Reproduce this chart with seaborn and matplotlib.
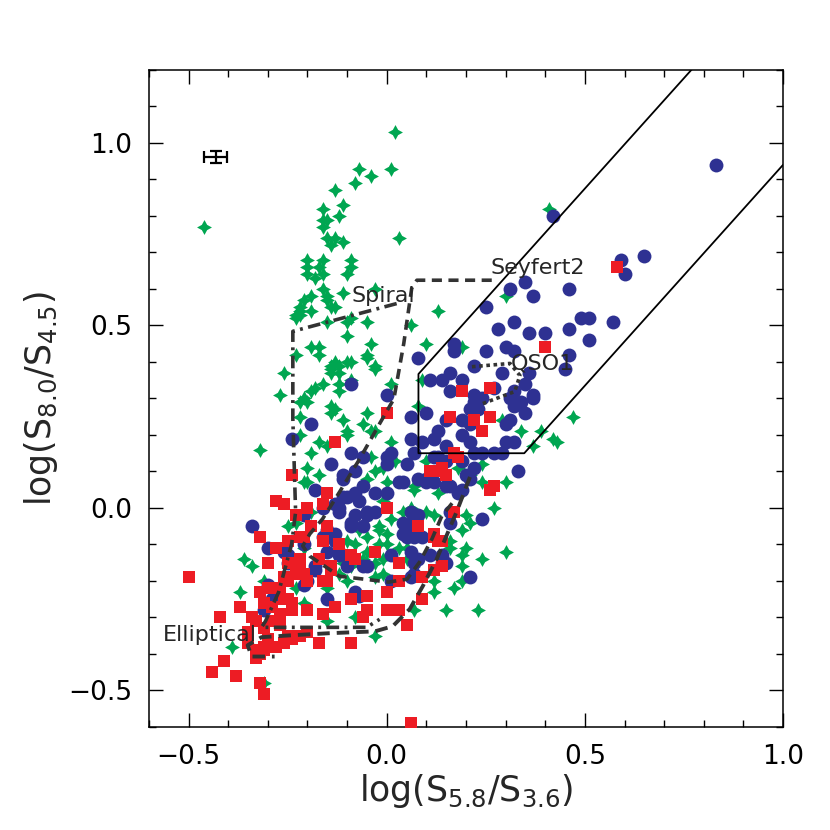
import numpy as np
import pandas as pd
import matplotlib
matplotlib.use("Agg")
import matplotlib.pyplot as plt
import seaborn as sns

# ---- data (log flux ratios) ----
stars = [
    (0.02, 1.03), (-0.46, 0.77), (-0.07, 0.93), (0.01, 0.93), (-0.04, 0.91), (-0.08, 0.89), (-0.13, 0.87), (-0.11, 0.83),
    (-0.12, 0.80), (-0.16, 0.82), (-0.16, 0.79), (-0.15, 0.79), (-0.16, 0.77), (0.03, 0.74), (-0.15, 0.74), (-0.13, 0.74),
    (-0.14, 0.72), (-0.11, 0.73), (-0.20, 0.68), (-0.16, 0.68), (-0.09, 0.68), (-0.20, 0.66), (-0.17, 0.66), (-0.09, 0.66),
    (-0.20, 0.64), (-0.18, 0.63), (-0.16, 0.64), (-0.10, 0.64), (-0.03, 0.60), (-0.16, 0.60), (-0.11, 0.59), (-0.19, 0.58),
    (-0.15, 0.57), (-0.21, 0.57), (-0.22, 0.55), (-0.14, 0.55), (-0.13, 0.55), (-0.19, 0.54), (-0.23, 0.53), (-0.22, 0.53),
    (0.13, 0.54), (-0.09, 0.52), (-0.05, 0.51), (-0.15, 0.51), (0.06, 0.50), (-0.10, 0.51), (-0.10, 0.47), (-0.19, 0.44),
    (-0.17, 0.44), (-0.04, 0.45), (0.10, 0.45), (-0.17, 0.42), (-0.23, 0.42), (-0.05, 0.42), (-0.05, 0.41), (-0.10, 0.40),
    (-0.13, 0.40), (-0.12, 0.39), (-0.14, 0.39), (-0.03, 0.38), (-0.14, 0.37), (-0.26, 0.37), (-0.12, 0.37), (-0.09, 0.35),
    (-0.12, 0.34), (-0.16, 0.34), (-0.18, 0.33), (-0.19, 0.32), (-0.12, 0.32), (-0.27, 0.31), (0.01, 0.34), (0.09, 0.35),
    (-0.15, 0.58), (-0.22, 0.54), (-0.23, 0.52), (-0.09, 0.40), (-0.03, 0.39), (-0.14, 0.38), (-0.21, 0.30), (-0.14, 0.28),
    (-0.22, 0.25), (-0.06, 0.23), (0.41, 0.82), (0.30, 0.58), (0.19, 0.44), (0.08, 0.28), (0.29, 0.24), (0.34, 0.21),
    (0.39, 0.21), (0.42, 0.19), (0.43, 0.18), (0.37, 0.17), (0.24, 0.12), (0.18, 0.11), (0.21, 0.09), (0.30, 0.07),
    (0.07, 0.06), (0.47, 0.25), (0.13, 0.04), (0.27, 0.00), (0.06, 0.00), (0.04, -0.01), (0.20, -0.02), (0.21, -0.04),
    (0.19, -0.06), (0.16, -0.09), (0.20, -0.11), (0.30, -0.12), (0.16, -0.11), (0.19, -0.13), (0.24, -0.14), (0.05, -0.14),
    (0.19, -0.16), (0.12, -0.20), (0.19, -0.20), (0.17, -0.22), (0.12, -0.23), (0.15, -0.28), (0.23, -0.28), (0.07, -0.28),
    (-0.32, 0.16), (-0.36, -0.14), (-0.34, -0.16), (-0.37, -0.23), (-0.31, -0.20), (-0.31, -0.48), (-0.22, 0.29), (-0.20, 0.29),
    (-0.14, 0.26), (-0.13, 0.27), (-0.11, 0.24), (-0.05, 0.26), (-0.03, 0.21), (-0.10, 0.21), (-0.17, 0.18), (-0.20, 0.11),
    (-0.21, 0.07), (-0.15, 0.17), (-0.05, 0.08), (-0.01, 0.11), (0.01, 0.18), (0.02, 0.13), (-0.01, 0.02), (0.01, -0.03),
    (-0.02, -0.05), (-0.05, -0.08), (-0.08, -0.10), (-0.02, -0.10), (-0.06, -0.14), (-0.11, -0.15), (-0.15, -0.22), (-0.21, -0.11),
    (-0.23, -0.04), (-0.10, -0.20), (-0.03, -0.19), (-0.15, -0.31), (-0.08, -0.30), (-0.03, -0.35), (0.07, 0.05), (0.12, -0.02),
    (-0.22, 0.20), (-0.10, 0.20), (-0.04, 0.21), (-0.04, 0.14), (-0.19, 0.15), (-0.17, 0.09), (-0.20, 0.07), (0.00, 0.07),
    (-0.03, 0.10), (0.10, 0.13), (-0.19, -0.01), (-0.25, -0.05), (-0.07, -0.06), (-0.02, -0.06), (0.05, -0.11), (-0.10, -0.09),
    (0.00, -0.10), (-0.05, -0.12), (-0.01, -0.14), (-0.09, -0.16), (-0.03, -0.15), (-0.01, -0.18), (-0.12, -0.18), (0.24, 0.07),
    (0.10, -0.01), (0.03, -0.11), (0.00, -0.07), (-0.23, -0.22), (-0.21, -0.26), (-0.39, -0.38),
]

circles = [
    (-0.09, 0.34), (0.00, 0.31), (0.08, 0.41), (0.17, 0.45), (0.17, 0.43), (0.16, 0.37), (0.11, 0.35), (0.14, 0.35),
    (0.16, 0.32), (0.19, 0.35), (0.83, 0.94), (0.42, 0.80), (0.59, 0.68), (0.65, 0.69), (0.60, 0.64), (0.31, 0.60),
    (0.35, 0.62), (0.37, 0.58), (0.46, 0.60), (0.25, 0.55), (0.32, 0.51), (0.28, 0.49), (0.36, 0.48), (0.40, 0.48),
    (0.46, 0.49), (0.49, 0.52), (0.51, 0.52), (0.57, 0.51), (0.51, 0.46), (0.25, 0.43), (0.30, 0.44), (0.32, 0.43),
    (0.46, 0.42), (0.22, 0.39), (0.29, 0.37), (0.36, 0.37), (0.45, 0.38), (0.22, 0.31), (0.32, 0.32), (0.37, 0.31),
    (0.35, 0.34), (0.37, 0.30), (0.27, 0.33), (0.24, 0.30), (0.22, 0.29), (0.21, 0.27), (0.23, 0.27), (0.31, 0.30),
    (0.32, 0.28), (0.34, 0.29), (0.10, 0.26), (0.06, 0.25), (0.19, 0.24), (0.21, 0.23), (0.19, 0.20), (0.21, 0.18),
    (0.13, 0.21), (0.12, 0.19), (0.15, 0.17), (0.30, 0.23), (0.31, 0.24), (0.30, 0.18), (0.32, 0.18), (0.35, 0.26),
    (0.24, 0.15), (0.27, 0.15), (0.29, 0.15), (0.22, 0.15), (0.05, 0.12), (0.07, 0.15), (0.12, 0.14), (0.15, 0.13),
    (0.19, 0.13), (0.20, 0.09), (0.21, 0.08), (0.10, 0.07), (0.12, 0.07), (0.15, 0.06), (0.33, 0.10), (0.04, 0.07),
    (0.24, -0.03), (0.21, -0.19), (0.16, -0.04), (0.06, -0.01), (0.08, -0.02), (0.07, -0.08), (0.14, -0.15), (0.15, -0.15),
    (0.07, -0.15), (0.06, -0.12), (0.22, 0.11), (0.19, 0.05), (0.06, -0.19), (-0.34, -0.05), (-0.30, -0.11), (-0.24, 0.19),
    (-0.19, 0.23), (-0.14, 0.12), (-0.09, 0.15), (-0.06, 0.14), (-0.11, 0.09), (-0.08, 0.10), (-0.18, 0.05), (-0.11, 0.03),
    (-0.06, 0.06), (-0.03, 0.04), (0.00, 0.04), (0.03, 0.07), (0.00, 0.14), (0.00, 0.12), (0.06, 0.19), (0.15, 0.24),
    (0.09, 0.18), (0.13, 0.14), (0.16, 0.06), (0.08, 0.08), (-0.13, 0.01), (-0.12, -0.01), (-0.08, -0.02), (-0.05, -0.01),
    (-0.15, -0.06), (-0.16, -0.08), (-0.13, -0.07), (-0.09, -0.05), (-0.06, -0.05), (-0.15, -0.12), (-0.12, -0.13), (-0.18, -0.17),
    (-0.20, -0.20), (-0.10, -0.16), (-0.08, -0.23), (-0.15, -0.25), (0.04, -0.04), (0.04, -0.07), (0.01, -0.13), (0.08, -0.14),
    (0.11, -0.13), (-0.25, -0.15), (-0.26, -0.12), (-0.30, -0.21), (-0.31, -0.28), (-0.29, -0.25), (0.01, 0.15), (-0.11, 0.08),
    (0.10, 0.08), (-0.08, 0.04), (-0.10, 0.03), (-0.07, 0.02), (-0.12, 0.00), (-0.05, -0.02), (-0.03, -0.01), (-0.09, -0.04),
    (-0.16, 0.00), (-0.21, -0.02), (0.06, -0.06), (0.05, -0.08), (-0.05, -0.16), (-0.12, -0.12), (-0.18, -0.16), (-0.25, -0.13),
    (-0.21, -0.10), (-0.13, -0.09), (0.18, 0.04), (0.16, -0.01), (0.07, -0.03), (0.09, -0.08), (0.14, -0.13), (0.01, -0.20),
    (0.07, -0.18), (-0.28, -0.23), (-0.21, -0.21), (-0.07, -0.24), (-0.06, -0.16),
]

squares = [
    (0.19, 0.32), (0.58, 0.66), (0.40, 0.44), (0.26, 0.33), (0.16, 0.25), (0.22, 0.24), (0.26, 0.25), (0.24, 0.21),
    (0.17, 0.15), (0.18, 0.14), (0.11, 0.10), (0.14, 0.11), (0.15, 0.09), (0.27, 0.06), (0.26, 0.05), (0.17, -0.01),
    (0.08, -0.05), (0.12, -0.07), (0.14, -0.09), (0.14, -0.16), (0.12, -0.17), (0.09, -0.19), (0.09, -0.25), (0.05, -0.32),
    (0.03, -0.28), (0.06, -0.59), (-0.50, -0.19), (-0.42, -0.30), (-0.37, -0.27), (-0.44, -0.45), (-0.41, -0.42), (-0.38, -0.46),
    (-0.32, -0.48), (-0.31, -0.51), (-0.32, -0.23), (-0.30, -0.22), (-0.31, -0.26), (-0.34, -0.30), (-0.33, -0.31), (-0.35, -0.34),
    (-0.35, -0.37), (-0.32, -0.40), (-0.33, -0.41), (-0.31, -0.39), (-0.28, -0.38), (-0.26, -0.37), (-0.24, -0.36), (-0.20, -0.34),
    (-0.17, -0.37), (-0.09, -0.37), (-0.28, 0.02), (-0.26, 0.01), (-0.24, 0.09), (-0.32, -0.08), (-0.28, -0.11), (-0.25, -0.09),
    (-0.30, -0.15), (-0.26, -0.19), (-0.25, -0.15), (-0.22, -0.14), (-0.23, -0.18), (-0.21, -0.18), (-0.27, -0.22), (-0.26, -0.25),
    (-0.24, -0.26), (-0.24, -0.28), (-0.27, -0.29), (-0.29, -0.27), (-0.29, -0.31), (-0.27, -0.32), (-0.31, -0.33), (-0.23, -0.02),
    (-0.20, 0.00), (-0.21, -0.08), (-0.19, -0.05), (-0.16, 0.01), (-0.15, -0.05), (-0.16, -0.09), (-0.12, -0.10), (-0.14, -0.16),
    (-0.17, -0.14), (-0.16, -0.20), (-0.13, 0.18), (-0.15, 0.04), (-0.20, -0.28), (-0.16, -0.29), (-0.13, -0.27), (-0.09, -0.25),
    (-0.05, -0.24), (-0.05, -0.28), (-0.06, -0.30), (-0.09, -0.13), (-0.08, -0.14), (-0.03, -0.12), (0.00, 0.00), (0.00, 0.26),
    (0.03, -0.15), (0.00, -0.23), (0.13, -0.09), (-0.22, -0.08), (-0.14, -0.17), (-0.22, -0.16), (0.12, 0.10), (0.12, -0.08),
    (0.00, -0.28), (-0.29, -0.22), (-0.25, -0.25), (-0.30, -0.36), (-0.33, -0.39), (-0.31, -0.38), (-0.25, -0.35), (-0.22, -0.35),
    (-0.15, -0.20), (0.03, -0.20), (-0.25, -0.20), (-0.22, -0.15), (-0.20, -0.20),
]

# template tracks
spiral_x = [0.025, -0.237, -0.237, -0.230, -0.240, -0.273, -0.306, -0.316, -0.220, -0.051, -0.018]
spiral_y = [0.560, 0.484, 0.245, -0.011, -0.099, -0.231, -0.310, -0.327, -0.327, -0.327, -0.305]
sey2_x = [0.265, 0.076, 0.063, 0.043, 0.018, -0.018, -0.068, -0.119, -0.162, -0.194, -0.212, -0.194,
          -0.119, 0.005, 0.051, 0.083, 0.114, 0.139, 0.167]
sey2_y = [0.624, 0.624, 0.602, 0.451, 0.299, 0.231, 0.135, 0.044, -0.030, -0.071, -0.104, -0.132,
          -0.187, -0.203, -0.195, -0.148, -0.085, -0.022, 0.016]
ell_x = [0.210, 0.179, 0.126, 0.091, 0.058, 0.015, -0.030, -0.144, -0.245, -0.316, -0.351, -0.341, -0.283]
ell_y = [0.085, -0.003, -0.140, -0.214, -0.277, -0.324, -0.338, -0.343, -0.349, -0.354, -0.376, -0.407, -0.407]
qso1_x = [0.215, 0.311, 0.336, 0.323, 0.242]
qso1_y = [0.387, 0.396, 0.363, 0.319, 0.286]

# AGN selection wedge
wedge_x = [1.0, 0.08, 0.08, 0.347, 1.0]
wedge_y = [1.48, 0.367, 0.15, 0.15, 0.94]

# typical error bar
err_x, err_y = -0.432, 0.962
err_dx, err_dy = 0.028, 0.017

tick_vals = [-0.5, 0.0, 0.5, 1.0]
tick_text = ["\u22120.5", "0.0", "0.5", "1.0"]

df_star = pd.DataFrame(stars, columns=["x", "y"])
df_circ = pd.DataFrame(circles, columns=["x", "y"])
df_sq = pd.DataFrame(squares, columns=["x", "y"])

sns.set_style("ticks")
plt.rcParams["font.family"] = ["DejaVu Sans"]
plt.rcParams["mathtext.fontset"] = "dejavusans"

fig = plt.figure(figsize=(8.3, 8.3), dpi=100)
ax = fig.add_axes([0.1795, 0.1241, 0.7639, 0.7916])

green = "#00A651"
blue = "#2E3192"
red = "#ED1C24"

sns.scatterplot(data=df_star, x="x", y="y", ax=ax, marker=(4, 1, 0), s=115,
                color=green, linewidth=0, zorder=2)
sns.scatterplot(data=df_circ, x="x", y="y", ax=ax, marker="o", s=100,
                color=blue, linewidth=0, zorder=3)
sns.scatterplot(data=df_sq, x="x", y="y", ax=ax, marker="s", s=68,
                color=red, linewidth=0, zorder=4)

track = "#333333"
ax.plot(spiral_x, spiral_y, color=track, lw=2.6, dashes=(3.5, 1.5, 0.8, 1.5), zorder=5)
ax.plot(sey2_x, sey2_y, color=track, lw=2.6, dashes=(2.8, 1.8), zorder=5)
ax.plot(ell_x, ell_y, color=track, lw=2.8, dashes=(3.2, 1.8), zorder=5)
ax.plot(qso1_x, qso1_y, color=track, lw=2.6, dashes=(1.0, 1.0), zorder=5)
ax.plot(wedge_x, wedge_y, color="black", lw=1.3, zorder=6)

ax.errorbar([err_x], [err_y], xerr=[err_dx], yerr=[err_dy], fmt="none",
            ecolor="black", elinewidth=1.6, capsize=4, capthick=1.6, zorder=6)

ax.text(-0.088, 0.580, "Spiral", fontsize=16, ha="left", va="center", zorder=7)
ax.text(0.263, 0.657, "Seyfert2", fontsize=16, ha="left", va="center", zorder=7)
ax.text(0.313, 0.396, "QSO1", fontsize=16, ha="left", va="center", zorder=7)
ax.text(-0.566, -0.349, "Elliptical", fontsize=16, ha="left", va="center", zorder=7)

ax.set_xlim(-0.6, 1.0)
ax.set_ylim(-0.6, 1.2)
ax.set_xticks(tick_vals)
ax.set_xticklabels(tick_text)
ax.set_yticks(tick_vals)
ax.set_yticklabels(tick_text)
ax.set_xticks(np.arange(-0.6, 1.01, 0.1), minor=True)
ax.set_yticks(np.arange(-0.6, 1.21, 0.1), minor=True)
ax.tick_params(which="both", direction="in", top=True, right=True, width=1, colors="black")
ax.tick_params(which="major", length=10, labelsize=19)
ax.tick_params(axis="x", which="major", pad=12)
ax.tick_params(axis="y", which="major", pad=12)
ax.tick_params(which="minor", length=5)
for sp in ax.spines.values():
    sp.set_linewidth(1.1)
    sp.set_color("black")

ax.set_xlabel(r"log(S$_{5.8}$/S$_{3.6}$)", fontsize=25, labelpad=2)
ax.set_ylabel(r"log(S$_{8.0}$/S$_{4.5}$)", fontsize=25, labelpad=6)

fig.savefig("out.png", dpi=100)
